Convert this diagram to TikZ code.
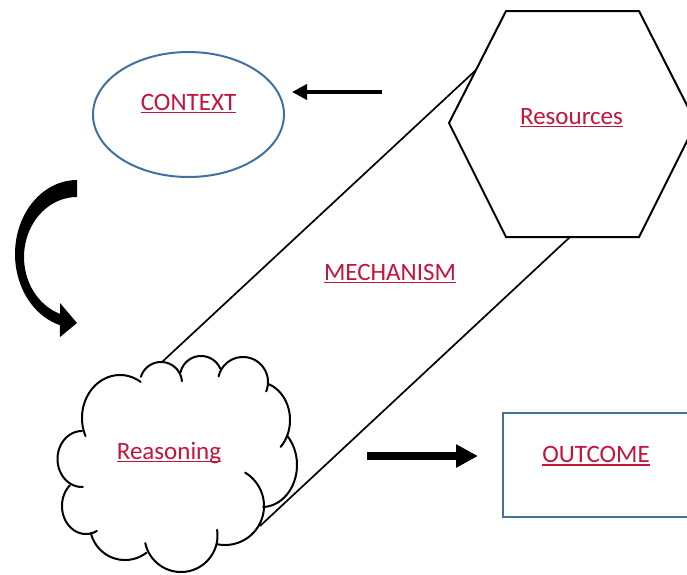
\documentclass[tikz,border=0pt]{standalone}
\usepackage{fontspec}
\setmainfont{Carlito}
\usetikzlibrary{shapes.geometric,arrows.meta}
\definecolor{linkred}{RGB}{195,20,60}
\definecolor{shapeblue}{RGB}{65,113,156}
% underlined word with a rule just below the baseline
\newcommand\ulword[1]{\setbox0=\hbox{#1}\rlap{\vrule height -1.6pt depth 3.0pt width \wd0}\box0}
% one puff of the cloud: centre (#1,#2), radii #3/#4, angles #5 to #6
\newcommand\puff[6]{\draw[outline] plot[domain=#5:#6,samples=50] ({#1+#3*cos(\x)},{#2+#4*sin(\x)});}
\tikzset{
  lbl/.style={font=\fontsize{25}{30}\selectfont, text=linkred, inner sep=0pt, anchor=base},
  outline/.style={draw=black, line width=2pt, line join=round, line cap=round},
  blueline/.style={draw=shapeblue, line width=2pt},
  tube/.style={draw=black, line width=1.7pt},
}
\begin{document}
\begin{tikzpicture}[x=1pt,y=-1pt]
\useasboundingbox (0,0) rectangle (687,574);
\clip (0,0) rectangle (687,574);

% anchor points of the mechanism tube
\coordinate (cloudtop) at (162,362);
\coordinate (cloudbot) at (260,526);
\coordinate (hexul) at (476,70);
\coordinate (hexbot) at (570,237);
\draw[tube] (cloudtop) -- (hexul);
\draw[tube] (cloudbot) -- (hexbot);

% context ellipse
\node[blueline, ellipse, minimum width=191pt, minimum height=125pt, inner sep=0pt] (ctx) at (188.5,114.5) {};

% resources hexagon
\draw[outline, line join=miter, fill=white] (506,11) -- (639,11) -- (696,123) -- (639,237) -- (506,237) -- (449,123) -- cycle;

% outcome box
\node[blueline, rectangle, minimum width=210pt, minimum height=104pt, inner sep=0pt, anchor=north west] (out) at (502,412) {};

% reasoning cloud, drawn puff by puff (overlapping ends give the inner hooks)
\puff{120}{418}{38}{43}{155}{303}
\puff{161}{383}{21}{21}{197}{355}
\puff{201}{377}{21}{21}{193}{337}
\puff{243}{382}{25}{25}{193}{382}
\puff{258}{420}{32}{38}{288}{405}
\puff{262}{465}{35}{42}{-44}{88}
\puff{225}{506}{39}{39}{-59}{102}
\puff{181}{535.5}{36.5}{36.5}{-9}{168}
\puff{125}{525}{35}{35}{52}{167}
\puff{86}{506}{24}{28}{63}{228}
\puff{82}{459}{24.5}{28}{88}{270}

% curved block arrow from context down to reasoning
\fill (77,180)
  -- plot[domain=-90:-254,samples=60] ({77+62*cos(\x)},{254+74*sin(\x)})
  -- (60,337) -- (77,323) -- (60,303)
  -- plot[domain=-251.3:-90,samples=60] ({77+53*cos(\x)},{257+60*sin(\x)})
  -- cycle;

% straight arrows
\coordinate (ctxtail) at (382,92);
\coordinate (ctxtip) at (292,92);
\draw[line width=4.5pt, -{Triangle[length=15pt,width=15pt]}] (ctxtail) -- (ctxtip);
\coordinate (outtail) at (367,456);
\coordinate (outtip) at (478,456);
\draw[line width=8pt, -{Triangle[length=22pt,width=22pt]}] (outtail) -- (outtip);

% labels
\node[lbl] (ctxlabel) at (188.5,110) {\ulword{CONTEXT}};
\node[lbl] (reslabel) at (571.5,124) {\ulword{Resources}};
\node[lbl] (mechlabel) at (390,280) {\ulword{MECHANISM}};
\node[lbl] (realabel) at (169,459) {\ulword{Reasoning}};
\node[lbl] (outlabel) at (596,462.7) {\ulword{OUTCOME}};
\end{tikzpicture}
\end{document}
